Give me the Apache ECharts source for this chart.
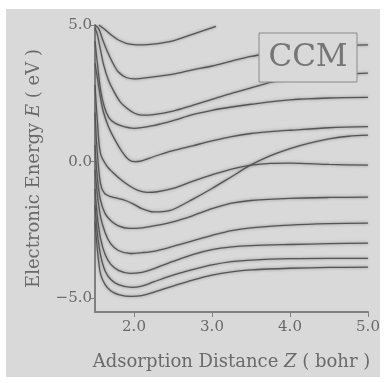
<!DOCTYPE html>
<html><head><meta charset="utf-8">
<script src="https://cdn.jsdelivr.net/npm/echarts@6/dist/echarts.min.js"></script>
<style>html,body{margin:0;padding:0;background:#fff}#c{width:384px;height:383px}</style>
</head><body><div id="c"></div>
<script>
// Tick values
const xTickValues = [2, 3, 4, 5];
const yTickValues = [-5, 0, 5];
const legendLabel = 'CCM';

// Curves: [Z (bohr), E (eV)]
const curve01 = [[1.55,5.0],[1.62,4.85],[1.7,4.65],[1.8,4.45],[1.9,4.33],[2.0,4.28],[2.1,4.27],[2.25,4.3],[2.5,4.42],[2.75,4.66],[3.05,4.95]];
const curve02 = [[1.5,5.0],[1.55,4.85],[1.6,4.45],[1.66,4.02],[1.73,3.6],[1.8,3.28],[1.9,3.08],[2.0,3.03],[2.1,3.05],[2.25,3.1],[2.5,3.2],[2.75,3.36],[3.0,3.5],[3.25,3.68],[3.5,3.85],[3.75,3.98],[4.0,4.1],[4.5,4.22],[5.0,4.27]];
const curve03 = [[1.5,4.9],[1.53,4.65],[1.57,4.1],[1.61,3.55],[1.67,3.0],[1.74,2.58],[1.82,2.2],[1.91,1.95],[2.0,1.78],[2.1,1.70],[2.25,1.72],[2.5,1.85],[2.75,2.06],[3.0,2.28],[3.25,2.5],[3.5,2.7],[3.75,2.9],[4.0,3.03],[4.5,3.18],[5.0,3.24]];
const curve04 = [[1.5,4.4],[1.53,3.6],[1.57,2.65],[1.62,2.0],[1.68,1.6],[1.75,1.42],[1.85,1.3],[2.0,1.22],[2.25,1.32],[2.5,1.5],[2.75,1.72],[3.0,1.88],[3.25,2.0],[3.5,2.1],[4.0,2.26],[4.5,2.33],[5.0,2.35]];
const curve05 = [[1.5,3.6],[1.55,2.7],[1.6,1.9],[1.67,1.3],[1.76,0.78],[1.85,0.35],[1.93,0.08],[2.0,0.0],[2.1,0.03],[2.25,0.18],[2.5,0.4],[2.75,0.58],[3.0,0.76],[3.25,0.92],[3.5,1.03],[3.75,1.1],[4.0,1.15],[4.5,1.24],[5.0,1.28]];
const curve06 = [[1.5,2.8],[1.53,1.5],[1.57,0.3],[1.65,-0.15],[1.75,-0.45],[1.85,-0.7],[1.95,-0.9],[2.05,-1.05],[2.17,-1.12],[2.3,-1.1],[2.5,-0.98],[2.75,-0.72],[3.0,-0.48],[3.25,-0.27],[3.5,-0.13],[3.75,-0.06],[4.0,-0.05],[4.5,-0.1],[5.0,-0.13]];
const curve07 = [[1.5,1.8],[1.53,0.3],[1.57,-0.8],[1.62,-1.15],[1.7,-1.28],[1.8,-1.35],[1.9,-1.43],[2.0,-1.56],[2.1,-1.72],[2.25,-1.84],[2.4,-1.82],[2.5,-1.75],[2.75,-1.38],[3.0,-0.98],[3.25,-0.55],[3.5,-0.12],[3.75,0.22],[4.0,0.48],[4.25,0.68],[4.5,0.83],[4.75,0.93],[5.0,0.97]];
const curve08 = [[1.5,0.6],[1.53,-0.6],[1.57,-1.4],[1.63,-1.9],[1.7,-2.15],[1.8,-2.35],[1.94,-2.44],[2.1,-2.42],[2.25,-2.35],[2.5,-2.2],[2.75,-1.98],[3.0,-1.72],[3.25,-1.52],[3.5,-1.42],[4.0,-1.34],[4.5,-1.31],[5.0,-1.30]];
const curve09 = [[1.5,-0.3],[1.53,-1.2],[1.57,-2.0],[1.63,-2.6],[1.7,-3.0],[1.8,-3.25],[1.95,-3.36],[2.1,-3.33],[2.25,-3.28],[2.5,-3.1],[2.75,-2.9],[3.0,-2.7],[3.25,-2.52],[3.5,-2.42],[4.0,-2.32],[4.5,-2.27],[5.0,-2.25]];
const curve10 = [[1.5,-1.0],[1.53,-2.0],[1.57,-2.8],[1.63,-3.4],[1.7,-3.75],[1.8,-3.98],[1.95,-4.09],[2.1,-4.05],[2.25,-3.92],[2.5,-3.65],[2.75,-3.4],[3.0,-3.22],[3.25,-3.12],[3.5,-3.07],[4.0,-3.03],[4.5,-3.0],[5.0,-2.98]];
const curve11 = [[1.5,-1.6],[1.53,-2.6],[1.57,-3.4],[1.63,-4.0],[1.7,-4.3],[1.8,-4.5],[1.97,-4.6],[2.1,-4.55],[2.25,-4.4],[2.5,-4.15],[2.75,-3.95],[3.0,-3.78],[3.25,-3.66],[3.5,-3.6],[4.0,-3.55],[4.5,-3.54],[5.0,-3.54]];
const curve12 = [[1.5,-2.2],[1.53,-3.2],[1.57,-4.1],[1.63,-4.5],[1.7,-4.72],[1.8,-4.86],[1.97,-4.93],[2.1,-4.9],[2.25,-4.78],[2.5,-4.55],[2.75,-4.33],[3.0,-4.15],[3.25,-4.03],[3.5,-3.96],[4.0,-3.9],[4.5,-3.87],[5.0,-3.86]];

const curves = [curve01,curve02,curve03,curve04,curve05,curve06,curve07,curve08,curve09,curve10,curve11,curve12];

const serif = '"DejaVu Serif","Liberation Serif",serif';
const txt = '#6a6a6a';
const chart = echarts.init(document.getElementById('c'), null, {renderer:'canvas'});

const option = {
  animation: false,
  backgroundColor: '#ffffff',
  graphic: [
    {type:'rect', z:-100, silent:true, shape:{x:6,y:9,width:374,height:368}, style:{fill:'#d9d9d9'}},
    {type:'rect', z:100, shape:{x:259,y:33,width:98,height:49}, style:{fill:'#d9d9d9', stroke:'#8a8a8a', lineWidth:1}},
    {type:'text', z:101, x:308, y:58, style:{text:legendLabel, fontSize:31, fontFamily:serif, fill:'#767676', align:'center', verticalAlign:'middle'}}
  ],
  grid: {left:95, right:16, top:25, bottom:71},
  xAxis: {
    type:'value', min:1.5, max:5,
    name:'Adsorption Distance {i|Z} ( bohr )', nameLocation:'middle', nameGap:41,
    nameTextStyle:{fontFamily:serif, fontSize:18, color:txt, rich:{i:{fontFamily:serif, fontSize:18, fontStyle:'italic', color:txt}}},
    axisLine:{onZero:false, lineStyle:{color:'#808080', width:2}},
    axisTick:{customValues:xTickValues, length:5, lineStyle:{color:'#808080'}},
    axisLabel:{customValues:xTickValues, formatter:v=>v.toFixed(1), fontFamily:serif, fontSize:15, color:txt, margin:8},
    splitLine:{show:false}
  },
  yAxis: {
    type:'value', min:-5.5, max:5,
    name:'Electronic Energy {i|E} ( eV )', nameLocation:'middle', nameGap:52, nameRotate:90,
    nameTextStyle:{fontFamily:serif, fontSize:18, color:txt, rich:{i:{fontFamily:serif, fontSize:18, fontStyle:'italic', color:txt}}},
    axisLine:{onZero:false, lineStyle:{color:'#808080', width:2}},
    axisTick:{customValues:yTickValues, length:5, lineStyle:{color:'#808080'}},
    axisLabel:{customValues:yTickValues, formatter:v=>(v<0?'\u2212'+Math.abs(v).toFixed(1):v.toFixed(1)), fontFamily:serif, fontSize:15, color:txt, margin:3},
    splitLine:{show:false}
  },
  series: curves.map(c => ({
    type:'line', data:c, smooth:0.3, showSymbol:false, clip:true,
    lineStyle:{color:'#555555', width:1.3, shadowColor:'rgba(90,90,90,0.7)', shadowBlur:3}
  }))
};
chart.setOption(option);
</script></body></html>
